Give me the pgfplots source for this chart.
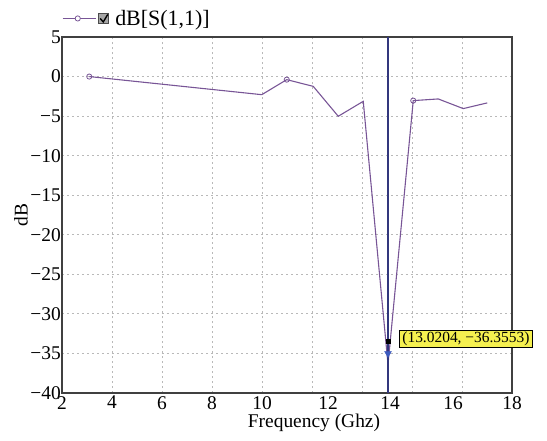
\documentclass[border=0pt]{standalone}
\usepackage{fontspec}
\setmainfont{Liberation Serif}
\usepackage{pgfplots}
\pgfplotsset{compat=1.18}
\definecolor{trace}{RGB}{120,85,150}
\definecolor{vline}{RGB}{50,55,125}
\definecolor{mkblue}{RGB}{60,90,190}
\definecolor{boxyellow}{RGB}{245,240,80}
\begin{document}
\begin{tikzpicture}
\useasboundingbox (-62bp,-48bp) rectangle (485bp,393bp);
\begin{axis}[
  at={(0,0)}, anchor=south west,
  scale only axis, width=450bp, height=356bp,
  xmin=2, xmax=20, ymin=-40, ymax=5,
  xtick={4,6,...,18}, xticklabels={},
  extra x ticks={2,4,6,8,10,12.64,15.12,17.64,20},
  extra x tick labels={2,4,6,8,10,12,14,16,18},
  extra x tick style={grid=none},
  ytick={-40,-35,...,5},
  yticklabels={−40,−35,−30,−25,−20,−15,−10,−5,0,5},
  major tick length=0pt,
  grid=major,
  major grid style={gray!55, dash pattern=on 2pt off 3pt, line width=0.8pt},
  axis line style={line width=1.2pt, draw=black!75},
  ticklabel style={font=\fontsize{19.5}{20}\selectfont},
  yticklabel style={inner xsep=1bp},
  xticklabel style={inner ysep=3bp},
  label style={font=\fontsize{19.5}{20}\selectfont},
  xlabel={Frequency (Ghz)},
  xlabel style={xshift=27bp, yshift=-1bp, inner ysep=1bp},
  ylabel={dB},
  ylabel style={yshift=-2bp},
  clip=false,
  legend style={at={(0,1)}, anchor=south west, draw=none, fill=none,
    font=\fontsize{22}{24}\selectfont, inner xsep=0pt, inner ysep=0pt,
    yshift=8bp},
  legend cell align=left,
]
\addplot[trace, line width=1.1pt, mark=o, mark size=2.6pt,
  mark options={solid, fill=white, line width=0.8pt},
  mark indices={1,3,8},
  legend image code/.code={
    \draw[trace, line width=1.1pt] (0bp,0bp) -- (33bp,0bp);
    \draw[trace, fill=white, line width=0.8pt] (15bp,0bp) circle (2.6bp);
    \draw[black!70, fill=gray!70, line width=0.8pt] (36bp,-5bp) rectangle (46bp,5bp);
    \draw[black, line width=1.4pt] (37.5bp,0bp) -- (40.5bp,-3.5bp) -- (45bp,4bp);
    \path (50bp,0bp);
  }]
  coordinates {
  (3.09,0.0) (9.99,-2.29) (10.99,-0.39) (12.05,-1.24) (13.05,-5.02)
  (14.05,-3.13) (15.04,-36.4) (16.05,-3.04) (17.05,-2.83) (18.05,-4.05)
  (19.01,-3.33)
  };
\addlegendentry{dB[S(1,1)]}
\addplot[vline, line width=1.1pt, forget plot] coordinates {(15.04,-40) (15.04,5)};
\addplot[only marks, mark=triangle*, mark size=4pt, mkblue,
  mark options={rotate=180}, forget plot] coordinates {(15.04,-35)};
\addplot[only marks, mark=square*, mark size=2pt, black, forget plot]
  coordinates {(15.04,-33.5)};
\node[anchor=west, fill=boxyellow, draw=black, line width=0.8pt,
  inner xsep=3bp, inner ysep=1.5bp, font=\fontsize{15.5}{17}\selectfont]
  at (axis cs:15.48,-33.1) {(13.0204, −36.3553)};
\end{axis}
\end{tikzpicture}
\end{document}
